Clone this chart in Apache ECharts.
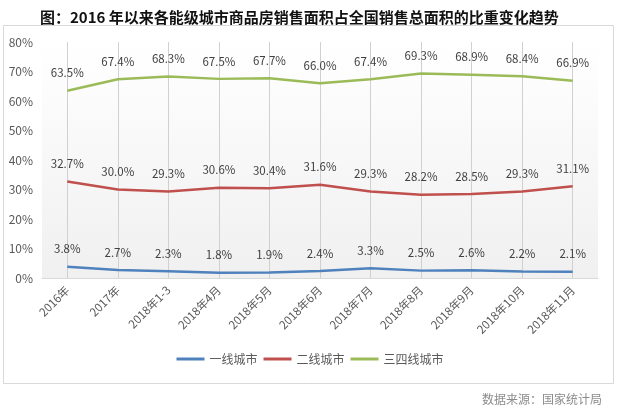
<!DOCTYPE html>
<html><head><meta charset="utf-8">
<script src="https://cdn.jsdelivr.net/npm/echarts@6/dist/echarts.min.js"></script>
<style>html,body{margin:0;padding:0;background:#fff}#c{width:620px;height:412px}</style>
</head><body><div id="c"></div>
<script>
const categories = ['2016年','2017年','2018年1-3','2018年4月','2018年5月','2018年6月','2018年7月','2018年8月','2018年9月','2018年10月','2018年11月'];
const tier1 = [3.8,2.7,2.3,1.8,1.9,2.4,3.3,2.5,2.6,2.2,2.1];
const tier2 = [32.7,30.0,29.3,30.6,30.4,31.6,29.3,28.2,28.5,29.3,31.1];
const tier34 = [63.5,67.4,68.3,67.5,67.7,66.0,67.4,69.3,68.9,68.4,66.9];
const seriesNames = ['一线城市','二线城市','三四线城市'];
const colors = ['#4F81BD','#C0504D','#9BBB59'];
const yTicks = [0,10,20,30,40,50,60,70,80];

const font = '"Microsoft YaHei","Noto Sans CJK SC",sans-serif';
const chart = echarts.init(document.getElementById('c'));
function mk(name, data, color){
  return {
    name, type:'line', data, symbol:'circle', symbolSize:0, showSymbol:true, smooth:false,
    lineStyle:{width:2.5,color}, itemStyle:{color},
    label:{show:true,position:'top',distance:12,formatter:p=>Number(p.value).toFixed(1)+'%',color:'#404040',fontSize:11.5,fontFamily:font}
  };
}
chart.setOption({
  animation:false,
  textStyle:{fontFamily:font},
  title:{text:'图：2016 年以来各能级城市商品房销售面积占全国销售总面积的比重变化趋势',left:35,top:5,
    textStyle:{fontSize:15,fontWeight:'bold',color:'#111',fontFamily:font}},
  graphic:[
    {type:'rect',shape:{x:3.5,y:25.5,width:610,height:358},style:{fill:'none',stroke:'#d9d9d9',lineWidth:1},silent:true},
    {type:'text',right:18,top:393,style:{text:'数据来源：国家统计局',fill:'#8c8c8c',font:'12px '+font}}
  ],
  legend:{data:seriesNames,bottom:42,left:'center',itemWidth:28,itemHeight:3,itemGap:6,icon:'rect',
    textStyle:{color:'#595959',fontSize:12,fontFamily:font}},
  grid:{left:42,right:22,top:42,bottom:134,show:true,borderWidth:0,
    backgroundColor:new echarts.graphic.LinearGradient(0,0,0,1,[{offset:0,color:'#ffffff'},{offset:1,color:'#f0f0f0'}])},
  xAxis:{type:'category',data:categories,boundaryGap:true,
    axisLine:{show:true,lineStyle:{color:'#d9d9d9'}},axisTick:{show:false},
    axisLabel:{rotate:45,color:'#595959',fontSize:11.5,margin:10,interval:0},
    splitLine:{show:true,alignWithLabel:true,lineStyle:{color:'#d0d0d0',width:1}}},
  yAxis:{type:'value',min:0,max:80,interval:10,
    axisLine:{show:false},axisTick:{show:false},splitLine:{show:false},
    axisLabel:{formatter:v=>v+'%',color:'#595959',fontSize:12,margin:9}},
  series:[mk(seriesNames[0],tier1,colors[0]),mk(seriesNames[1],tier2,colors[1]),mk(seriesNames[2],tier34,colors[2])]
});
</script></body></html>
